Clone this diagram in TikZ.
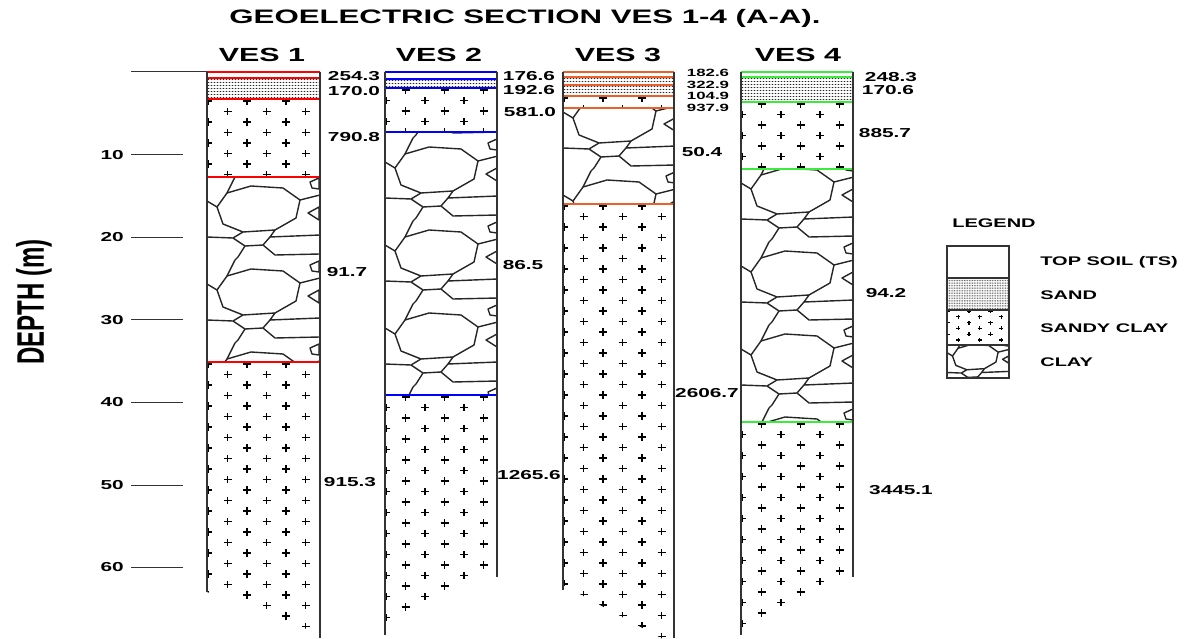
\documentclass[tikz,border=0pt]{standalone}
\usepackage{fontspec}
\setmainfont{Liberation Sans}
\definecolor{vesA}{RGB}{255,0,0}
\definecolor{vesB}{RGB}{0,0,255}
\definecolor{vesC}{RGB}{235,95,45}
\definecolor{vesD}{RGB}{60,235,60}

\newcommand{\sandlay}[3]{%
\begin{scope}
\clip (#1,#2) rectangle (#1+113,#3);
\pgfmathtruncatemacro\nr{(#3-#2)/3}
\foreach \r in {0,...,\nr}{\foreach \c in {0,...,37}{
  \fill[black!85] (#1+1.5+3*\c,#2+1.5+3*\r) circle (0.6pt);}}
\end{scope}}

\newcommand{\sclay}[4]{%
\begin{scope}
\clip (#1,#2) rectangle (#1+113,#3);
\pgfmathtruncatemacro\nr{(#3-#2)/10.5+1}
\foreach \r in {0,...,\nr}{\foreach \c in {-1,...,3}{
  \draw[crs] ({#1+1+39*\c+19.5*mod(\r+#4,2)},{#2+2+10.5*\r}) +(-4,0) -- +(4,0) +(0,-3.6) -- +(0,3.6);}}
\end{scope}}

\newcommand{\claylay}[4]{%
\begin{scope}
\clip (#1,#2) rectangle (#1+113,#3);
\foreach \k in {-1,...,3}{
\begin{scope}[shift={(#1,#2-#4+83*\k)}]
\draw[stone] (10,30) -- (20,16) -- (44,9) -- (76,11) -- (93,23) -- (89,41) -- (68,53) -- (36,55) -- (16,47) -- cycle;
\draw[stone] (113,58) -- (63,60) -- (56,68) -- (68,78) -- (113,77);
\draw[stone] (0,60) -- (26,61) -- (38,69) -- (31,80) -- (28,83);
\draw[stone] (28,0) -- (20,16) (0,24) -- (10,30) (36,55) -- (26,61) (93,23) -- (113,18) (68,53) -- (63,60) (38,69) -- (56,68);
\draw[stone] (101,36) -- (112,30) -- (112,43) -- cycle;
\draw[stone] (103,5) -- (112,1) -- (112,12) -- (105,11) -- cycle;
\end{scope}}
\end{scope}}

\begin{document}
\begin{tikzpicture}[x=0.625pt,y=-1pt,xscale=1.6,
  every node/.append style={transform shape},
  bord/.style={line width=1.4pt,black!80},
  tick/.style={line width=1pt,black!80},
  crs/.style={line width=1.2pt,black},
  stone/.style={line width=1.4pt,black!85,line join=round},
  lay/.style={line width=1.5pt},
  ttl/.style={font=\bfseries\fontsize{19.5}{20}\selectfont},
  ves/.style={font=\bfseries\fontsize{19}{20}\selectfont},
  num/.style={font=\bfseries\fontsize{13}{13}\selectfont,inner sep=0pt},
  tiny/.style={font=\bfseries\fontsize{10.5}{10.5}\selectfont,inner sep=0pt},
  leg/.style={font=\bfseries\fontsize{12.5}{13}\selectfont,inner sep=0pt,anchor=west}]
\useasboundingbox (0,0) rectangle (1190,639);

\node[ttl] (title) at (525,18) {GEOELECTRIC SECTION VES 1-4 (A-A).};
\node[ves] (v1) at (262,55) {VES 1};
\node[ves] (v2) at (439,55) {VES 2};
\node[ves] (v3) at (618,55) {VES 3};
\node[ves] (v4) at (798,55) {VES 4};

% depth axis
\node[font=\bfseries\fontsize{24}{24}\selectfont,rotate=90] (depth) at (34,302) {DEPTH (m)};
\draw[tick] (131,72) -- (207,72);
\foreach \d in {10,20,...,60}{
  \draw[tick] (131,{72.5+8.25*\d}) -- (183,{72.5+8.25*\d});
  \node[num,anchor=east] (d\d) at (124,{72.5+8.25*\d}) {\d};}

% VES 1
\begin{scope}
\clip (207,72) -- (320,72) -- (320,634) -- (207,592) -- cycle;
\sandlay{207}{78}{99}
\sclay{207}{99}{177}{0}
\claylay{207}{177}{362}{0}
\sclay{207}{362}{640}{0}
\end{scope}
\draw[lay,vesA] (207,72) -- (320,72) (207,78) -- (320,78) (207,99) -- (320,99) (207,177) -- (320,177) (207,362) -- (320,362);
\draw[bord] (207,72) -- (207,592) (320,72) -- (320,638);
\node[num] (a1) at (354,76) {254.3};
\node[num] (a2) at (354,91) {170.0};
\node[num] (a3) at (354,137) {790.8};
\node[num] (a4) at (347,272) {91.7};
\node[num] (a5) at (350,482) {915.3};

% VES 2
\begin{scope}
\clip (385,72) -- (497,72) -- (497,566) -- (385,628) -- cycle;
\sandlay{385}{79}{88}
\sclay{385}{88}{132}{1}
\claylay{385}{132}{395}{-6}
\sclay{385}{395}{640}{1}
\end{scope}
\draw[lay,vesB] (385,72) -- (497,72) (385,79) -- (497,79) (385,88) -- (497,88) (385,132) -- (497,132) (385,395) -- (497,395);
\draw[bord] (385,72) -- (385,635) (497,72) -- (497,577);
\node[num] (b1) at (529,76) {176.6};
\node[num] (b2) at (529,90) {192.6};
\node[num] (b3) at (530,112) {581.0};
\node[num] (b4) at (523,265) {86.5};
\node[num] (b5) at (529,475) {1265.6};

% VES 3
\begin{scope}
\clip (563,72) -- (674,72) -- (674,645) -- (563,585) -- cycle;
\sandlay{563}{77}{85}
\sandlay{563}{85}{96}
\sclay{563}{96}{108}{0}
\claylay{563}{108}{204}{20}
\sclay{563}{204}{640}{0}
\end{scope}
\draw[lay,vesC] (563,72) -- (674,72) (563,77) -- (674,77) (563,85) -- (674,85) (563,96) -- (674,96) (563,108) -- (674,108) (563,204) -- (674,204);
\draw[bord] (563,72) -- (563,590) (674,72) -- (674,638);
\node[tiny] (c1) at (708,73) {182.6};
\node[tiny] (c2) at (708,84.5) {322.9};
\node[tiny] (c3) at (708,96) {104.9};
\node[tiny] (c4) at (708,107.5) {937.9};
\node[num] (c5) at (702,152) {50.4};
\node[num] (c6) at (707,393) {2606.7};

% VES 4
\begin{scope}
\clip (741,72) -- (853,72) -- (853,575) -- (741,636) -- cycle;
\sandlay{741}{77}{102}
\sclay{741}{102}{169}{1}
\claylay{741}{169}{422}{10}
\sclay{741}{422}{640}{1}
\end{scope}
\draw[lay,vesD] (741,72) -- (853,72) (741,77) -- (853,77) (741,102) -- (853,102) (741,169) -- (853,169) (741,422) -- (853,422);
\draw[bord] (741,72) -- (741,635) (853,72) -- (853,577);
\node[num] (e1) at (891,77) {248.3};
\node[num] (e2) at (888,90) {170.6};
\node[num] (e3) at (885,133) {885.7};
\node[num] (e4) at (886,293) {94.2};
\node[num] (e5) at (901,490) {3445.1};

% legend
\node[leg] (lg) at (952,223) {LEGEND};
\begin{scope}[shift={(947,278)},scale=0.55] \sandlay{0}{0}{58} \end{scope}
\begin{scope}[shift={(947,310)},scale=0.55] \sclay{0}{0}{64}{0} \end{scope}
\begin{scope}[shift={(947,345)},scale=0.55] \claylay{0}{0}{60}{10} \end{scope}
\draw[line width=1.2pt,black!80] (947,246) rectangle (1009,378) (947,278) -- (1009,278) (947,310) -- (1009,310) (947,345) -- (1009,345);
\node[leg] (l1) at (1040,262) {TOP SOIL (TS)};
\node[leg] (l2) at (1040,295) {SAND};
\node[leg] (l3) at (1040,328) {SANDY CLAY};
\node[leg] (l4) at (1040,362) {CLAY};
\end{tikzpicture}
\end{document}
